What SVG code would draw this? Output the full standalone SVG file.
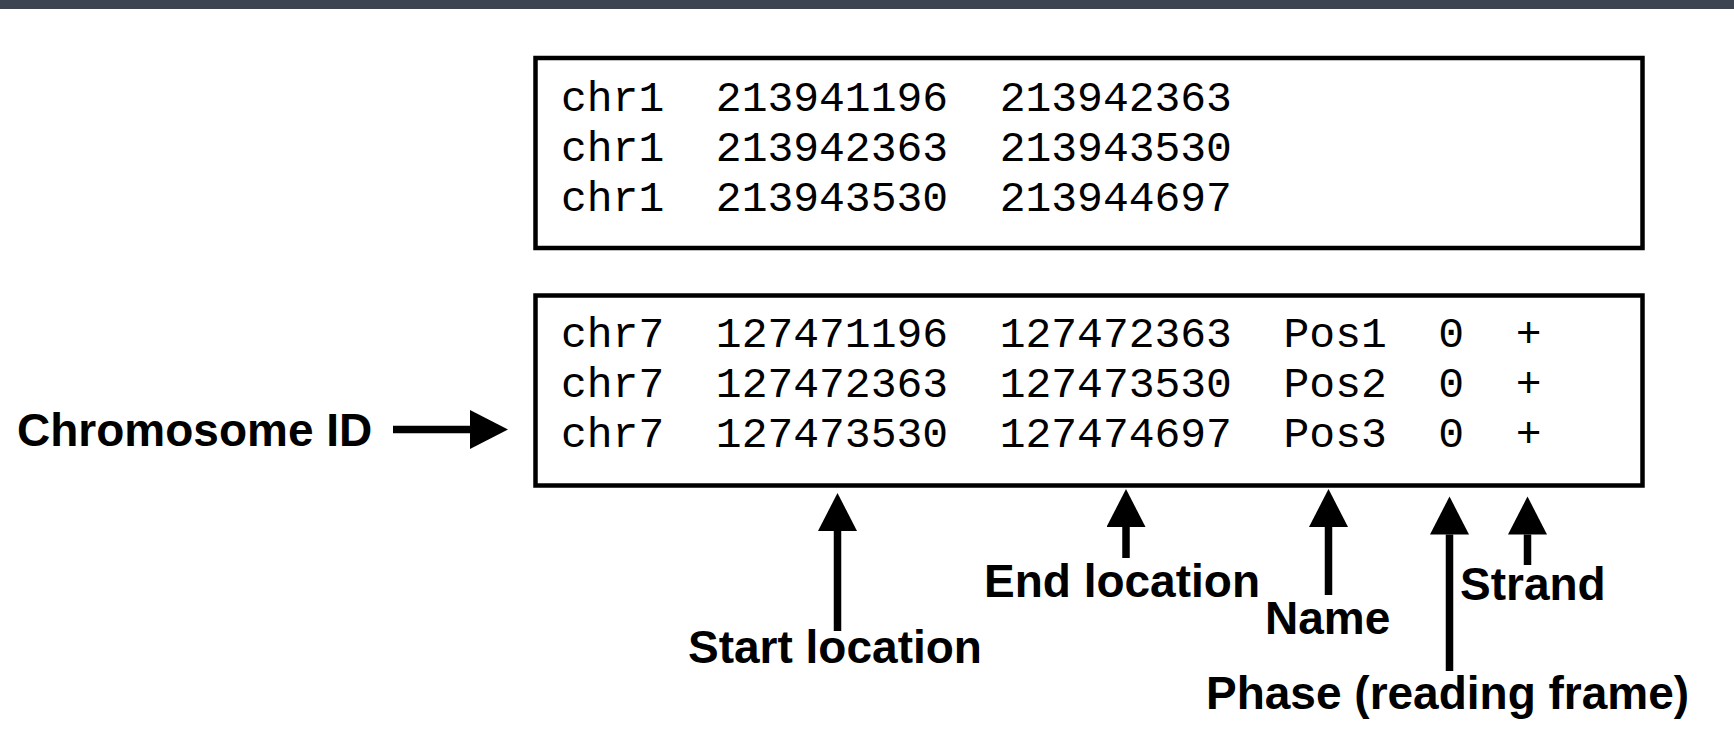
<svg xmlns="http://www.w3.org/2000/svg" width="1734" height="753" viewBox="0 0 1734 753">
  <style>
    .box { fill: #ffffff; stroke: #000000; stroke-width: 4.5; }
    .mono { font-family: "Liberation Mono", "Courier New", monospace; font-size: 43px; fill: #000000; white-space: pre; }
    .label { font-family: "Liberation Sans", Arial, Helvetica, sans-serif; font-weight: bold; font-size: 46px; fill: #000000; }
    .conn { stroke: #000000; stroke-width: 7.5; fill: none; marker-end: url(#head); }
  </style>
  <defs>
    <marker id="head" markerUnits="userSpaceOnUse" markerWidth="39" markerHeight="40" refX="0" refY="19.5" orient="auto" viewBox="0 0 39 40">
      <path d="M0,0 L38,19.5 L0,39 Z" fill="#000000"/>
    </marker>
  </defs>
  <rect x="0" y="0" width="1734" height="753" fill="#ffffff"/>
  <rect x="0" y="0" width="1734" height="9" fill="#3d4451"/>

  <g id="bed3-box">
    <rect class="box" x="535.5" y="58" width="1107" height="190"/>
    <text class="mono" x="561" y="111" xml:space="preserve">chr1  213941196  213942363</text>
    <text class="mono" x="561" y="161" xml:space="preserve">chr1  213942363  213943530</text>
    <text class="mono" x="561" y="211" xml:space="preserve">chr1  213943530  213944697</text>
  </g>

  <g id="bed6-box">
    <rect class="box" x="535.5" y="295.5" width="1107" height="190"/>
    <text class="mono" x="561" y="347" xml:space="preserve">chr7  127471196  127472363  Pos1  0  +</text>
    <text class="mono" x="561" y="397" xml:space="preserve">chr7  127472363  127473530  Pos2  0  +</text>
    <text class="mono" x="561" y="447" xml:space="preserve">chr7  127473530  127474697  Pos3  0  +</text>
  </g>

  <g id="label-chromosome"><text class="label" x="17" y="445.5">Chromosome ID</text></g>
  <g id="label-start"><text class="label" x="688" y="663">Start location</text></g>
  <g id="label-end"><text class="label" x="984" y="597">End location</text></g>
  <g id="label-name"><text class="label" x="1265" y="634">Name</text></g>
  <g id="label-strand"><text class="label" x="1460" y="600">Strand</text></g>
  <g id="label-phase"><text class="label" x="1206" y="709">Phase (reading frame)</text></g>

  <g id="connectors">
    <line class="conn" x1="393" y1="429.5" x2="470" y2="429.5"/>
    <line class="conn" x1="837.5" y1="631" x2="837.5" y2="531"/>
    <line class="conn" x1="1126" y1="558" x2="1126" y2="527"/>
    <line class="conn" x1="1328.5" y1="595" x2="1328.5" y2="527"/>
    <line class="conn" x1="1449.5" y1="671" x2="1449.5" y2="534.5"/>
    <line class="conn" x1="1527.5" y1="565" x2="1527.5" y2="534.5"/>
  </g>
</svg>
